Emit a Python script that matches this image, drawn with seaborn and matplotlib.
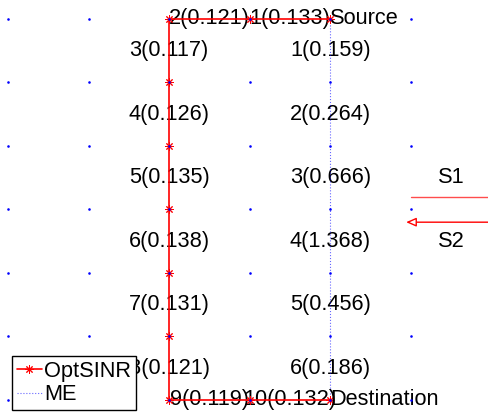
import matplotlib
matplotlib.use("Agg")
import matplotlib.pyplot as plt
import seaborn as sns
import pandas as pd
import numpy as np

# ---- data ----
grid_cols = [0, 1, 2, 3, 4, 5]
grid_rows = [0, 1, 2, 3, 4, 5, 6]

opt_x = [4, 3, 2, 2, 2, 2, 2, 2, 2, 3, 4]
opt_y = [6, 6, 6, 5, 4, 3, 2, 1, 0, 0, 0]
opt_labels = ["1(0.133)", "2(0.121)", "3(0.117)", "4(0.126)", "5(0.135)",
              "6(0.138)", "7(0.131)", "8(0.121)", "9(0.119)", "10(0.132)"]

me_x = [4, 4, 4, 4, 4, 4, 4]
me_y = [6, 5, 4, 3, 2, 1, 0]
me_labels = ["1(0.159)", "2(0.264)", "3(0.666)", "4(1.368)", "5(0.456)", "6(0.186)"]

endpoint_labels = ["Source", "Destination"]
stream_labels = ["S1", "S2"]
stream_y = [3.2, 2.8]
legend_labels = ["OptSINR", "ME"]

# ---- style ----
sns.set_theme(style="white")
plt.rcParams['font.family'] = ['Liberation Sans', 'DejaVu Sans']
plt.rcParams['text.color'] = 'black'
FS = 15.7

fig = plt.figure(figsize=(4.88, 4.13), dpi=100)
ax = fig.add_axes([0, 0, 1, 1])

gx, gy = np.meshgrid(grid_cols, grid_rows)
grid_df = pd.DataFrame({"x": gx.ravel(), "y": gy.ravel()})

opt_df = pd.DataFrame({"x": opt_x, "y": opt_y})
me_df = pd.DataFrame({"x": me_x, "y": me_y})

sns.lineplot(data=opt_df, x="x", y="y", sort=False, estimator=None, color="red",
             lw=1.2, marker=(8, 2, 0), markersize=6, markeredgecolor="red",
             markeredgewidth=0.7, ax=ax, label=legend_labels[0], zorder=3)
sns.lineplot(data=me_df, x="x", y="y", sort=False, estimator=None, color="blue",
             lw=0.8, linestyle=":", ax=ax, label=legend_labels[1], zorder=2, alpha=0.6)
sns.scatterplot(data=grid_df, x="x", y="y", color="blue", s=3.5, linewidth=0,
                ax=ax, zorder=4, legend=False)

# segment labels
for i, lab in enumerate(opt_labels):
    mx = (opt_x[i] + opt_x[i + 1]) / 2
    my = (opt_y[i] + opt_y[i + 1]) / 2
    ax.text(mx, my, lab, ha="center", va="center", fontsize=FS, color="black", zorder=2)
for i, lab in enumerate(me_labels):
    mx = (me_x[i] + me_x[i + 1]) / 2
    my = (me_y[i] + me_y[i + 1]) / 2
    ax.text(mx, my, lab, ha="center", va="center", fontsize=FS, color="black", zorder=1)

ax.text(opt_x[0], opt_y[0], endpoint_labels[0], ha="left", va="center", fontsize=FS, color="black")
ax.text(opt_x[-1], opt_y[-1], endpoint_labels[1], ha="left", va="center", fontsize=FS, color="black")

# streams
ax.plot([5, 6.3], [stream_y[0], stream_y[0]], color="red", lw=1.0, alpha=0.7)
ax.annotate("", xy=(4.94, stream_y[1]), xytext=(6.3, stream_y[1]),
            arrowprops=dict(arrowstyle="-|>,head_length=0.5,head_width=0.22",
                            color="red", fc="white", lw=1.0, shrinkA=0, shrinkB=0))
ax.text(5.5, 3.5, stream_labels[0], ha="center", va="center", fontsize=FS, color="black")
ax.text(5.5, 2.5, stream_labels[1], ha="center", va="center", fontsize=FS, color="black")

ax.set_xlim(-0.099, 5.955)
ax.set_ylim(-0.205, 6.299)
ax.set_axis_off()

leg = ax.legend(loc="lower left", bbox_to_anchor=(0.0246, 0.0073), fontsize=FS,
                frameon=True, fancybox=False, edgecolor="black", framealpha=1,
                borderpad=0.22, labelspacing=0.12, handlelength=1.15,
                handletextpad=0.1, borderaxespad=0)
leg.get_frame().set_linewidth(1.0)
for t in leg.get_texts():
    t.set_color("black")
leg.set_zorder(10)

fig.savefig("out.png", dpi=100)
